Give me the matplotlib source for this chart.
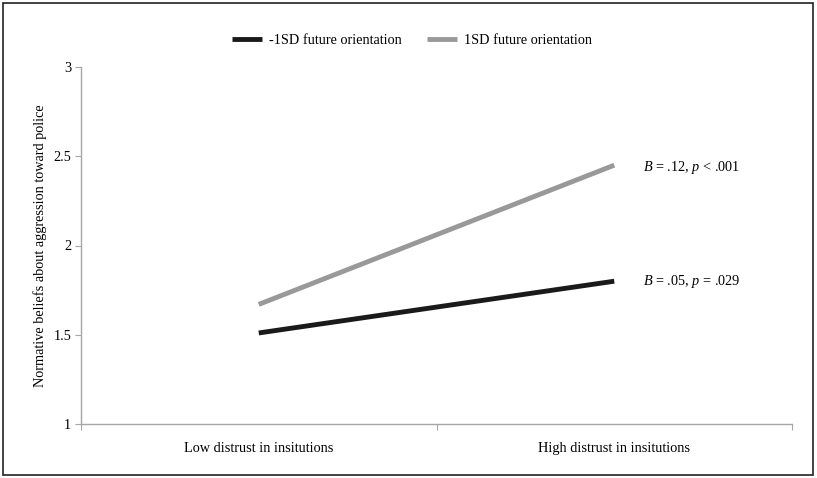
import matplotlib.pyplot as plt
from matplotlib.patches import Rectangle

plt.rcParams['font.family'] = ['Liberation Serif', 'DejaVu Serif']
plt.rcParams['mathtext.fontset'] = 'custom'
plt.rcParams['mathtext.rm'] = 'Liberation Serif'
plt.rcParams['mathtext.it'] = 'Liberation Serif:italic'

categories = ['Low distrust in insitutions', 'High distrust in insitutions']
low_future = [1.51, 1.80]
high_future = [1.67, 2.45]
series_names = ['-1SD future orientation', '1SD future orientation']
slope_labels = ['$\\it{B}$ = .05, $\\it{p}$ = .029', '$\\it{B}$ = .12, $\\it{p}$ < .001']
yticks = [1, 1.5, 2, 2.5, 3]
ytick_labels = ['1', '1.5', '2', '2.5', '3']

fs = 10.3
fig = plt.figure(figsize=(8.17, 4.78), dpi=100)
ax = fig.add_axes([81 / 817, 1 - 424 / 478, (792 - 81) / 817, (424 - 67) / 478])

x = list(range(len(categories)))
ax.plot(x, low_future, color='#1a1a1a', lw=3.5, solid_capstyle='butt', label=series_names[0])
ax.plot(x, high_future, color='#999999', lw=3.5, solid_capstyle='butt', label=series_names[1])

ax.set_xlim(-0.5, 1.5)
ax.set_ylim(1, 3)
ax.set_yticks(yticks)
ax.set_yticklabels(ytick_labels, fontsize=fs)
ax.set_xticks([-0.5, 0.5, 1.5])
ax.set_xticklabels([])
ax.set_xticks(x, minor=True)
ax.set_xticklabels(categories, minor=True, fontsize=fs)
ax.tick_params(axis='x', which='minor', length=0, pad=13)
ax.tick_params(axis='x', which='major', length=4, color='#a6a6a6', direction='out')
ax.tick_params(axis='y', length=4, color='#a6a6a6', pad=3)

for side in ['top', 'right']:
    ax.spines[side].set_visible(False)
for side in ['left', 'bottom']:
    ax.spines[side].set_color('#a6a6a6')
    ax.spines[side].set_linewidth(1)

ax.set_ylabel('Normative beliefs about aggression toward police', fontsize=fs, labelpad=5)

ax.annotate(slope_labels[0], xy=(x[1], low_future[1]), xytext=(21, 0),
            textcoords='offset points', va='center', fontsize=fs)
ax.annotate(slope_labels[1], xy=(x[1], high_future[1]), xytext=(21, -2),
            textcoords='offset points', va='center', fontsize=fs)

fig.legend(*ax.get_legend_handles_labels(), loc='center', bbox_to_anchor=(412 / 817, 1 - 40 / 478),
           ncol=2, frameon=False, fontsize=fs, handlelength=2.1, columnspacing=1.8,
           handletextpad=0.5)

fig.patches.append(Rectangle((3 / 817, 3 / 478), 810 / 817, 472 / 478, transform=fig.transFigure,
                             fill=False, edgecolor='#222222', lw=1.2))

fig.savefig('out.png', dpi=100)
